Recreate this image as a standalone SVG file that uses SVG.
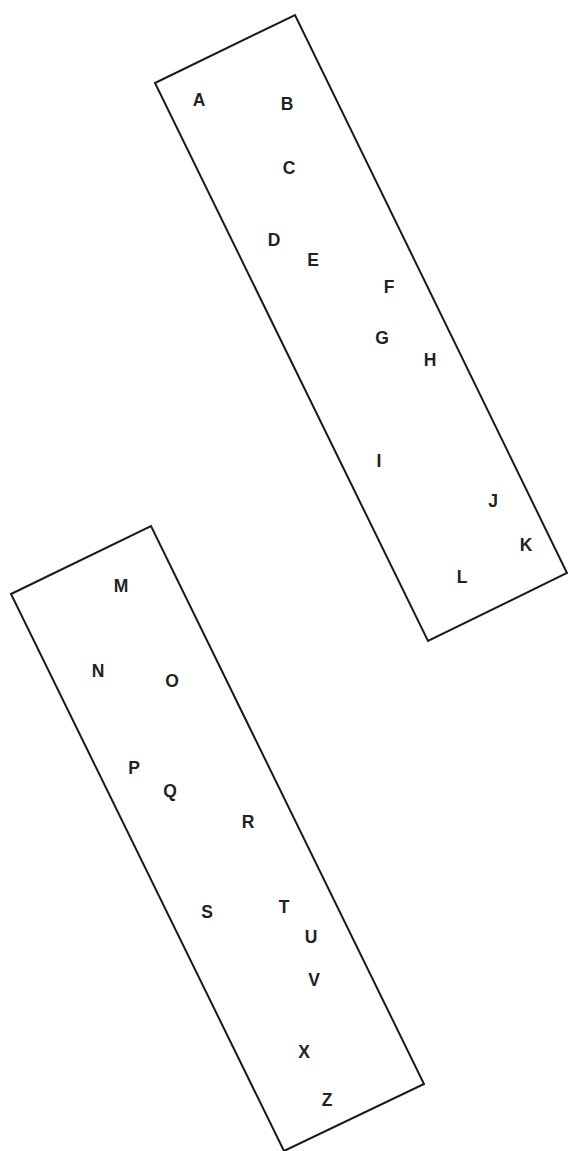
<svg xmlns="http://www.w3.org/2000/svg" width="568" height="1151" viewBox="0 0 568 1151">
<style>
.box{fill:none;stroke:#1a1a1a;stroke-width:2}
text{font-family:"Liberation Sans",Arial,sans-serif;font-weight:bold;font-size:17.5px;fill:#222;text-anchor:middle}
</style>
<rect width="568" height="1151" fill="#fff"/>
<g id="box1"><polygon class="box" points="155,83 295,15 567,573 428,641"/></g>
<g id="box2"><polygon class="box" points="11,594 151,526 424,1084 284,1151"/></g>
<g id="labels">
<text x="199" y="106">A</text>
<text x="287" y="110">B</text>
<text x="289" y="174">C</text>
<text x="274" y="246">D</text>
<text x="313" y="266">E</text>
<text x="389" y="293">F</text>
<text x="382" y="344">G</text>
<text x="430" y="366">H</text>
<text x="379" y="467">I</text>
<text x="493" y="507">J</text>
<text x="526" y="551">K</text>
<text x="462" y="583">L</text>
<text x="121" y="592">M</text>
<text x="98" y="677">N</text>
<text x="172" y="687">O</text>
<text x="134" y="774">P</text>
<text x="170" y="797">Q</text>
<text x="248" y="828">R</text>
<text x="207" y="918">S</text>
<text x="284" y="913">T</text>
<text x="311" y="943">U</text>
<text x="314" y="986">V</text>
<text x="304" y="1058">X</text>
<text x="327" y="1106">Z</text>
</g>
</svg>
